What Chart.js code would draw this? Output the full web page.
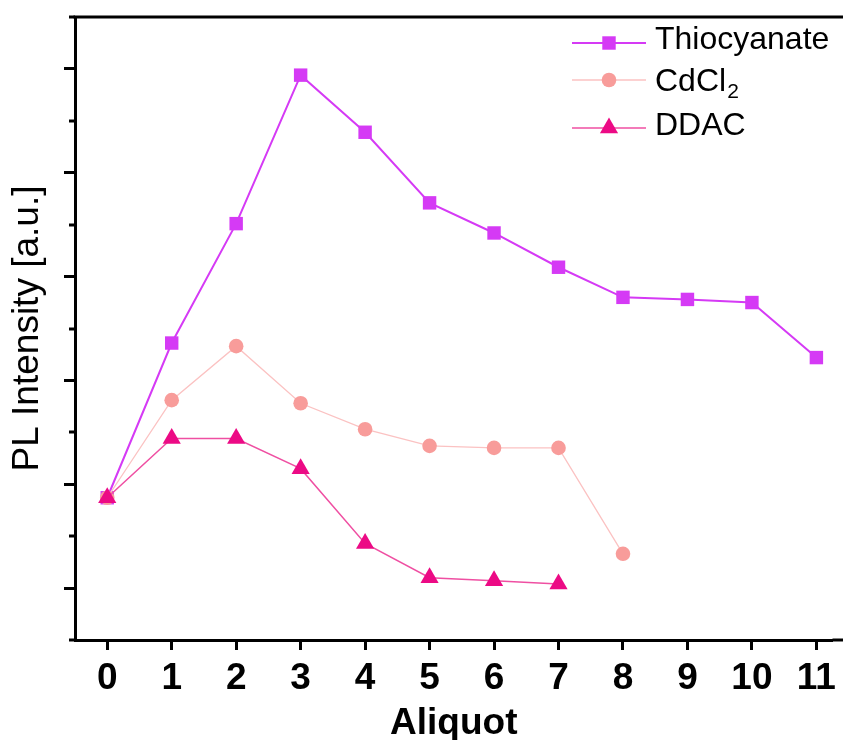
<!DOCTYPE html>
<html>
<head>
<meta charset="utf-8">
<script src="https://cdn.jsdelivr.net/npm/chart.js@4.4.1/dist/chart.umd.min.js"></script>
<style>
  html, body { margin: 0; padding: 0; background: #fff; }
</style>
</head>
<body>
<canvas id="plChart" width="843" height="740"></canvas>
<script>
// PL intensity after each aliquot, per additive
const aliquots = [0, 1, 2, 3, 4, 5, 6, 7, 8, 9, 10, 11];
const thiocyanate = [1.87, 3.36, 4.51, 5.94, 5.39, 4.71, 4.42, 4.09, 3.80, 3.78, 3.75, 3.22];
const cdcl2 = [1.87, 2.81, 3.33, 2.78, 2.53, 2.37, 2.35, 2.35, 1.33];
const ddac = [1.87, 2.44, 2.44, 2.15, 1.43, 1.10, 1.07, 1.04];
const seriesLabels = ['Thiocyanate', 'CdCl_2', 'DDAC'];

const FONT = '"Liberation Sans", Arial, sans-serif';

function toPoints(values) {
    return values.map((v, i) => ({ x: aliquots[i], y: v }));
}

// minor ticks on the y axis, plus the top frame line
const axisExtras = {
    id: 'axisExtras',
    afterDraw(chart) {
        const ctx = chart.ctx;
        const area = chart.chartArea;
        const y = chart.scales.y;
        ctx.save();
        ctx.strokeStyle = '#000';
        ctx.lineWidth = 3;
        y.ticks.forEach(t => {
            if (Number.isInteger(t.value)) return;
            const py = Math.round(y.getPixelForValue(t.value));
            ctx.beginPath();
            ctx.moveTo(area.left - 6, py);
            ctx.lineTo(area.left, py);
            ctx.stroke();
        });
        ctx.beginPath();
        ctx.moveTo(area.left - 1.5, area.top);
        ctx.lineTo(chart.width, area.top);
        ctx.stroke();
        // bottom axis runs on to the canvas edge
        ctx.beginPath();
        ctx.moveTo(area.right, area.bottom);
        ctx.lineTo(chart.width, area.bottom);
        ctx.stroke();
        ctx.restore();
    }
};

// legend box in the upper right, with a subscript after '_'
const seriesLegend = {
    id: 'seriesLegend',
    afterDraw(chart) {
        const ctx = chart.ctx;
        const lineRows = [43, 80, 128];
        const textRows = [40, 82, 126];
        chart.data.datasets.forEach((ds, i) => {
            const ly = lineRows[i];
            ctx.save();
            ctx.strokeStyle = ds.borderColor;
            ctx.lineWidth = ds.borderWidth;
            ctx.beginPath();
            ctx.moveTo(572, ly);
            ctx.lineTo(646, ly);
            ctx.stroke();
            ctx.fillStyle = ds.pointBackgroundColor;
            Chart.helpers.drawPoint(ctx, {
                pointStyle: ds.pointStyle, radius: ds.pointRadius, borderWidth: 0, rotation: 0
            }, 609, ly);

            const [base, sub] = ds.label.split('_');
            ctx.fillStyle = '#000';
            ctx.textBaseline = 'middle';
            ctx.font = '32px ' + FONT;
            ctx.fillText(base, 655, textRows[i]);
            if (sub) {
                const w = ctx.measureText(base).width;
                ctx.font = '21px ' + FONT;
                ctx.fillText(sub, 655 + w + 1, textRows[i] + 10);
            }
            ctx.restore();
        });
    }
};

new Chart(document.getElementById('plChart'), {
    type: 'line',
    data: {
        datasets: [{
            label: seriesLabels[0],
            data: toPoints(thiocyanate),
            borderColor: '#d53af5',
            backgroundColor: '#d53af5',
            pointBackgroundColor: '#d53af5',
            borderWidth: 2,
            pointStyle: 'rect',
            pointRadius: 9.5,
            pointBorderWidth: 0,
            order: 3
        }, {
            label: seriesLabels[1],
            data: toPoints(cdcl2),
            borderColor: '#fbc2c2',
            backgroundColor: '#f89c9a',
            pointBackgroundColor: '#f89c9a',
            borderWidth: 1.3,
            pointStyle: 'circle',
            pointRadius: 7.3,
            pointBorderWidth: 0,
            order: 2
        }, {
            label: seriesLabels[2],
            data: toPoints(ddac),
            borderColor: '#ef4fa2',
            backgroundColor: '#ec0a85',
            pointBackgroundColor: '#ec0a85',
            borderWidth: 1.5,
            pointStyle: 'triangle',
            pointRadius: 10.5,
            pointBorderWidth: 0,
            order: 1
        }]
    },
    options: {
        responsive: false,
        animation: false,
        devicePixelRatio: 1,
        clip: false,
        layout: { padding: { top: 17, right: 0, left: 0, bottom: 0 } },
        plugins: {
            legend: { display: false },
            tooltip: { enabled: false }
        },
        scales: {
            x: {
                type: 'linear',
                min: -0.5,
                max: 11.25,
                afterBuildTicks: scale => { scale.ticks = aliquots.map(v => ({ value: v })); },
                afterFit: scale => {
                    scale.height = 100;
                    scale.paddingLeft = 0;
                    scale.paddingRight = 0;
                },
                border: { color: '#000', width: 3 },
                grid: { drawOnChartArea: false, tickLength: 10, tickWidth: 3, tickColor: '#000' },
                ticks: {
                    autoSkip: false, maxRotation: 0, padding: 7, color: '#000',
                    font: { family: FONT, size: 37, weight: 'bold' }
                },
                title: {
                    display: true, text: 'Aliquot', color: '#000',
                    padding: { top: 0, bottom: -6 },
                    font: { family: FONT, size: 37, weight: 'bold' }
                }
            },
            y: {
                type: 'linear',
                min: 0.5,
                max: 6.5,
                afterFit: scale => { scale.width = 75; },
                border: { color: '#000', width: 3 },
                grid: {
                    drawOnChartArea: false, tickLength: 11, tickWidth: 3,
                    tickColor: ctx => Number.isInteger(ctx.tick.value) ? '#000' : 'rgba(0,0,0,0)'
                },
                ticks: { stepSize: 0.5, display: false },
                title: {
                    display: true, text: 'PL Intensity [a.u.]', color: '#000',
                    padding: { top: 6, bottom: 0 },
                    font: { family: FONT, size: 37 }
                }
            }
        }
    },
    plugins: [axisExtras, seriesLegend]
});
</script>
</body>
</html>
